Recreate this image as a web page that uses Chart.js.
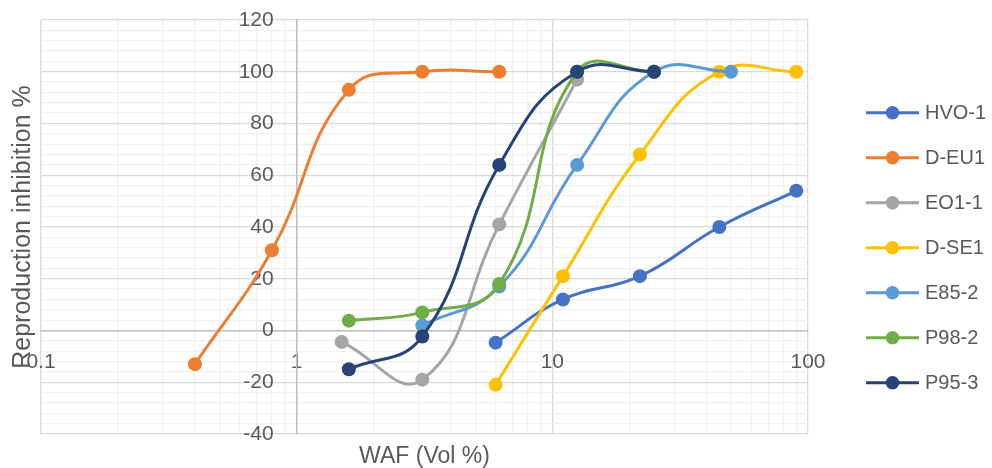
<!DOCTYPE html>
<html><head><meta charset="utf-8">
<script src="https://cdn.jsdelivr.net/npm/chart.js@4/dist/chart.umd.min.js"></script>
<style>html,body{margin:0;padding:0;background:#fff;} canvas{display:block;}</style>
</head><body>
<canvas id="c" width="992" height="468"></canvas>
<script>
const seriesNames = ['HVO-1', 'D-EU1', 'EO1-1', 'D-SE1', 'E85-2', 'P98-2', 'P95-3'];
const seriesColors = ['#4472C4', '#ED7D31', '#A5A5A5', '#FFC000', '#5B9BD5', '#70AD47', '#264478'];

const hvo1X = [6, 11, 22, 45, 90];
const hvo1Y = [-4.7, 12, 21, 40, 54];
const deu1X = [0.4, 0.8, 1.6, 3.1, 6.2];
const deu1Y = [-13, 31, 93, 100, 100];
const eo11X = [1.5, 3.1, 6.2, 12.5];
const eo11Y = [-4.4, -19, 41, 97];
const dse1X = [6, 11, 22, 45, 90];
const dse1Y = [-21, 21, 68, 100, 100];
const e852X = [3.1, 6.2, 12.5, 25, 50];
const e852Y = [2, 17, 64, 100, 100];
const p982X = [1.6, 3.1, 6.2, 12.5, 25];
const p982Y = [3.8, 7, 18, 100, 100];
const p953X = [1.6, 3.1, 6.2, 12.5, 25];
const p953Y = [-15, -2.3, 64, 100, 100];

const xTickValues = [0.1, 1, 10, 100];
const xTickLabels = ['0.1', '1', '10', '100'];
const yTickValues = [-40, -20, 0, 20, 40, 60, 80, 100, 120];
const yTickLabels = ['-40', '-20', '0', '20', '40', '60', '80', '100', '120'];
const xTitle = 'WAF (Vol %)';
const yTitle = 'Reproduction inhibition %';

const seriesX = [hvo1X, deu1X, eo11X, dse1X, e852X, p982X, p953X];
const seriesY = [hvo1Y, deu1Y, eo11Y, dse1Y, e852Y, p982Y, p953Y];

const FONT = '"Liberation Sans", Arial, sans-serif';
const TEXT = '#595959';

const datasets = seriesNames.map((name, i) => ({
  label: name,
  data: seriesX[i].map((x, j) => ({x: x, y: seriesY[i][j]})),
  borderColor: seriesColors[i],
  backgroundColor: seriesColors[i],
  pointBackgroundColor: seriesColors[i],
  pointBorderColor: seriesColors[i],
  pointRadius: 7,
  pointBorderWidth: 0,
  borderWidth: 3,
  showLine: true,
  tension: 0.45,
  order: seriesNames.length - i
}));

const extras = {
  id: 'extras',
  beforeDatasetsDraw(chart) {
    // y tick labels placed beside the crossing axis (at x = 1)
    const ctx = chart.ctx;
    const xs = chart.scales.x, ys = chart.scales.y;
    const ax = xs.getPixelForValue(1);
    ctx.save();
    ctx.fillStyle = TEXT;
    ctx.font = '21px ' + FONT;
    ctx.textAlign = 'right';
    ctx.textBaseline = 'middle';
    yTickValues.forEach((v, i) => {
      ctx.fillText(yTickLabels[i], ax - 23, ys.getPixelForValue(v));
    });
    ctx.restore();
  },
  afterDraw(chart) {
    const ctx = chart.ctx;
    const ca = chart.chartArea;
    ctx.save();
    ctx.fillStyle = TEXT;
    ctx.textAlign = 'center';
    ctx.textBaseline = 'middle';
    ctx.font = '23px ' + FONT;
    ctx.fillText(xTitle, (ca.left + ca.right) / 2, 457);
    ctx.save();
    ctx.translate(23, (ca.top + ca.bottom) / 2);
    ctx.rotate(-Math.PI / 2);
    ctx.font = '25px ' + FONT;
    ctx.fillText(yTitle, 0, 0);
    ctx.restore();
    // legend
    ctx.font = '20px ' + FONT;
    ctx.textAlign = 'left';
    seriesNames.forEach((name, i) => {
      const y = 112.7 + i * 45;
      ctx.strokeStyle = seriesColors[i];
      ctx.lineWidth = 3;
      ctx.beginPath();
      ctx.moveTo(866, y);
      ctx.lineTo(919, y);
      ctx.stroke();
      ctx.fillStyle = seriesColors[i];
      ctx.beginPath();
      ctx.arc(892.5, y, 6.8, 0, Math.PI * 2);
      ctx.fill();
      ctx.fillStyle = TEXT;
      ctx.fillText(name, 925, y + 1);
    });
    ctx.restore();
  }
};

new Chart(document.getElementById('c'), {
  type: 'scatter',
  data: {datasets},
  options: {
    responsive: false,
    animation: false,
    layout: {padding: {left: 41, right: 184, top: 20, bottom: 34}},
    plugins: {legend: {display: false}, tooltip: {enabled: false}},
    scales: {
      x: {
        type: 'logarithmic',
        min: 0.1, max: 100,
        position: {y: 0},
        afterBuildTicks(scale) {
          const t = [];
          for (let d = 0; d < xTickValues.length - 1; d++) {
            for (let k = 1; k < 10; k++) t.push({value: Math.round(k * xTickValues[d] * 1000) / 1000});
          }
          t.push({value: xTickValues[xTickValues.length - 1]});
          scale.ticks = t;
        },
        ticks: {
          autoSkip: false, maxRotation: 0, padding: 19,
          color: TEXT, font: {family: FONT, size: 21},
          callback: (v) => {
            const idx = xTickValues.findIndex(t => Math.abs(t - v) < 1e-9);
            return idx >= 0 ? xTickLabels[idx] : '';
          }
        },
        grid: {
          drawTicks: false,
          color: (c) => xTickValues.some(t => Math.abs(t - c.tick.value) < 1e-9) ? '#d9d9d9' : '#f0f0f0',
          lineWidth: 1.3
        },
        border: {display: true, color: '#bfbfbf', width: 1.5}
      },
      y: {
        type: 'linear',
        min: -40, max: 120,
        position: {x: 1},
        ticks: {
          stepSize: 4, autoSkip: false, padding: 0, display: false
        },
        grid: {
          drawTicks: false,
          color: (c) => yTickValues.includes(c.tick.value) ? '#d9d9d9' : '#f0f0f0',
          lineWidth: 1.3
        },
        border: {display: true, color: '#bfbfbf', width: 1.5}
      }
    }
  },
  plugins: [extras]
});
</script>
</body></html>
